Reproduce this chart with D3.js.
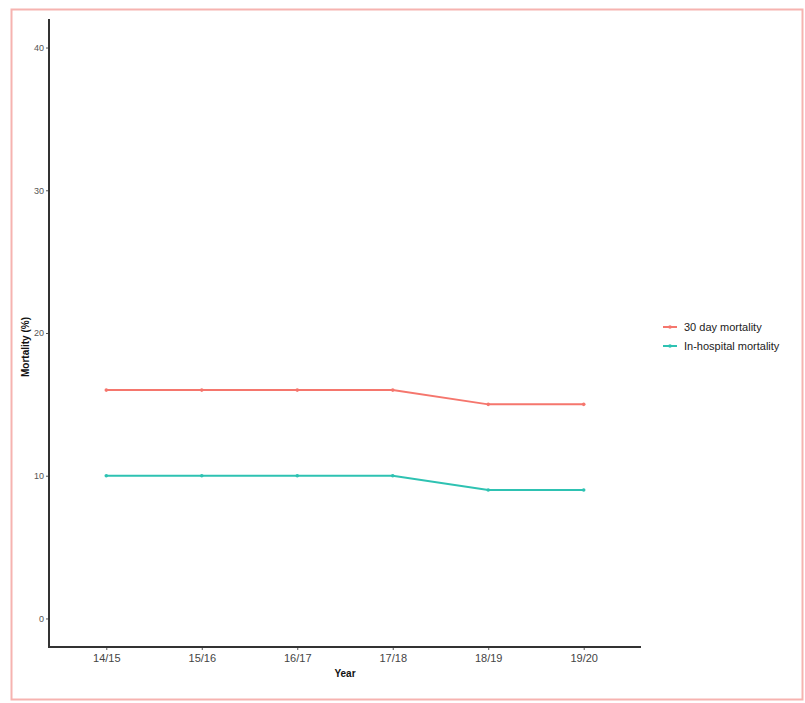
<!DOCTYPE html>
<html>
<head>
<meta charset="utf-8">
<script src="https://cdn.jsdelivr.net/npm/d3@7"></script>
<style>
  html, body { margin: 0; padding: 0; background: #ffffff; }
  svg { display: block; }
</style>
</head>
<body>
<svg id="chart" width="805" height="703"></svg>
<script>
// Financial years on the x axis
const years = ["14/15", "15/16", "16/17", "17/18", "18/19", "19/20"];
// Mortality rates (%)
const mortality30Day = [16, 16, 16, 16, 15, 15];
const mortalityInHospital = [10, 10, 10, 10, 9, 9];
const seriesNames = ["30 day mortality", "In-hospital mortality"];
const seriesColors = ["#F5766D", "#2EC2B2"];
const yTicks = [0, 10, 20, 30, 40];

const svg = d3.select("#chart");

// Outer frame
svg.append("rect")
  .attr("x", 11.5).attr("y", 9.5)
  .attr("width", 791).attr("height", 690)
  .attr("fill", "#ffffff")
  .attr("stroke", "#f6b3b0").attr("stroke-width", 2);

// Plot panel bounds
const panel = { left: 49, right: 641, top: 19, bottom: 647 };

// Discrete x positions with ggplot-like 0.6 padding on each side
const x = d3.scaleLinear().domain([0.4, years.length + 0.6]).range([panel.left, panel.right]);
const xPos = i => x(i + 1);
// Continuous y with 5% expansion
const y = d3.scaleLinear().domain([-2, 42]).range([panel.bottom, panel.top]);

const g = svg.append("g");

// Y axis
const yAxis = d3.axisLeft(y).tickValues(yTicks).tickSize(3).tickPadding(2);
const gy = g.append("g").attr("transform", `translate(${panel.left},0)`).call(yAxis);
gy.select(".domain").remove();
gy.selectAll(".tick line").attr("stroke", "#555").attr("stroke-width", 1);
gy.selectAll(".tick text").attr("fill", "#555")
  .style("font-family", "Liberation Sans, Arial, sans-serif").style("font-size", "9px");

// X axis
const xScalePt = d3.scalePoint().domain(years)
  .range([xPos(0), xPos(years.length - 1)]);
const xAxis = d3.axisBottom(xScalePt).tickSize(3).tickPadding(4);
const gx = g.append("g").attr("transform", `translate(0,${panel.bottom})`).call(xAxis);
gx.select(".domain").remove();
gx.selectAll(".tick line").attr("stroke", "#555").attr("stroke-width", 1);
gx.selectAll(".tick text").attr("fill", "#444")
  .style("font-family", "Liberation Sans, Arial, sans-serif").style("font-size", "11px");

// Axis lines
g.append("path")
  .attr("d", `M${panel.left},${panel.top}V${panel.bottom}H${panel.right}`)
  .attr("fill", "none").attr("stroke", "#333").attr("stroke-width", 2);

// Axis titles
g.append("text")
  .attr("x", (panel.left + panel.right) / 2).attr("y", 677)
  .attr("text-anchor", "middle")
  .style("font-family", "Liberation Sans, Arial, sans-serif")
  .style("font-size", "10px").style("font-weight", "bold").attr("fill", "#111")
  .text("Year");
g.append("text")
  .attr("transform", `translate(29,${(panel.top + panel.bottom) / 2 + 14}) rotate(-90)`)
  .attr("text-anchor", "middle")
  .style("font-family", "Liberation Sans, Arial, sans-serif")
  .style("font-size", "10px").style("font-weight", "bold").attr("fill", "#111")
  .text("Mortality (%)");

// Series
const series = [mortality30Day, mortalityInHospital];
const line = d3.line().x((d, i) => xPos(i)).y(d => y(d));
series.forEach((vals, k) => {
  g.append("path").datum(vals)
    .attr("d", line)
    .attr("fill", "none")
    .attr("stroke", seriesColors[k])
    .attr("stroke-width", 2);
  g.selectAll(null).data(vals).enter().append("circle")
    .attr("cx", (d, i) => xPos(i)).attr("cy", d => y(d))
    .attr("r", 1.8).attr("fill", seriesColors[k]);
});

// Legend
const legend = svg.append("g").attr("transform", "translate(660,327)");
seriesNames.forEach((name, k) => {
  const row = legend.append("g").attr("transform", `translate(0,${k * 19})`);
  row.append("line").attr("x1", 3).attr("x2", 17).attr("y1", 0).attr("y2", 0)
    .attr("stroke", seriesColors[k]).attr("stroke-width", 2);
  row.append("circle").attr("cx", 10).attr("cy", 0).attr("r", 1.8).attr("fill", seriesColors[k]);
  row.append("text").attr("x", 24).attr("y", 4)
    .style("font-family", "Liberation Sans, Arial, sans-serif")
    .style("font-size", "11px").attr("fill", "#222")
    .text(name);
});
</script>
</body>
</html>
